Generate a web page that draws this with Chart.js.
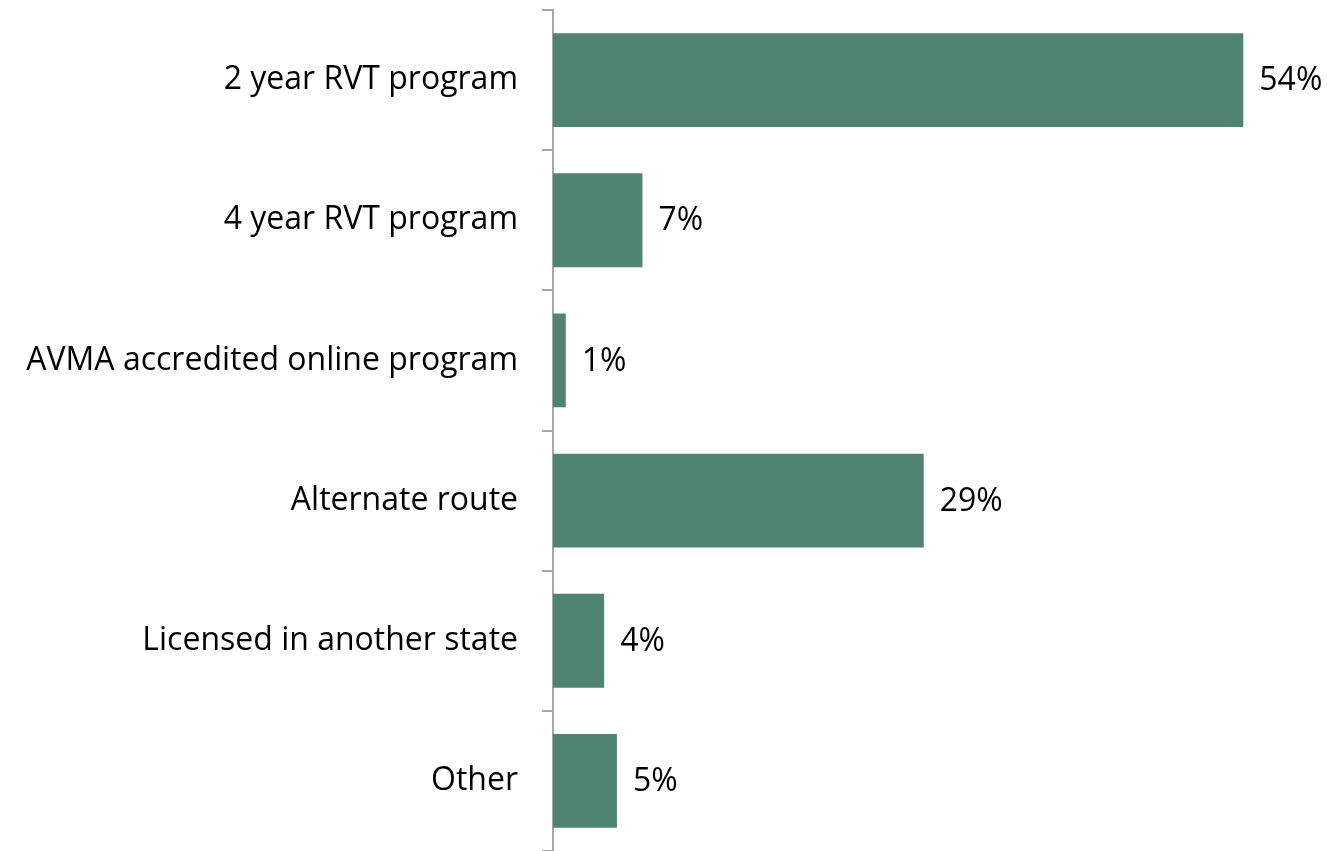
<!DOCTYPE html>
<html>
<head>
<meta charset="utf-8">
<script src="https://cdn.jsdelivr.net/npm/chart.js@4/dist/chart.umd.min.js"></script>
<style>
  html, body { margin: 0; padding: 0; background: #fff; }
  #wrap { width: 1327px; height: 851px; position: relative; }
</style>
</head>
<body>
<div id="wrap"><canvas id="routes"></canvas></div>
<script>
// Kategorien und Werte (Prozent)
var categories = [
  "2 year RVT program",
  "4 year RVT program",
  "AVMA accredited online program",
  "Alternate route",
  "Licensed in another state",
  "Other"
];
var shares = [54, 7, 1, 29, 4, 5];
var axisMax = 60;

var textFont = { family: "Open Sans", size: 32 };

// Werte rechts neben den Balken schreiben
var valueLabels = {
  id: "valueLabels",
  afterDatasetsDraw: function (chart) {
    var ctx = chart.ctx;
    var meta = chart.getDatasetMeta(0);
    ctx.save();
    ctx.font = textFont.size + "px " + textFont.family;
    ctx.fillStyle = "#000";
    ctx.textAlign = "left";
    ctx.textBaseline = "middle";
    meta.data.forEach(function (bar, i) {
      ctx.fillText(shares[i] + "%", bar.x + 16, bar.y + 1);
    });
    ctx.restore();
  }
};

var ctx = document.getElementById("routes");
var chart = new Chart(ctx, {
  type: "bar",
  data: {
    labels: categories,
    datasets: [{
      data: shares,
      backgroundColor: "#4E8470",
      barPercentage: 0.67,
      categoryPercentage: 1
    }]
  },
  options: {
    indexAxis: "y",
    responsive: true,
    maintainAspectRatio: false,
    animation: false,
    layout: { padding: { top: 10, right: 7, bottom: 0, left: 0 } },
    plugins: {
      legend: { display: false },
      tooltip: { enabled: false }
    },
    scales: {
      x: {
        display: false,
        min: 0,
        max: axisMax
      },
      y: {
        // feste Breite für die Beschriftung, kein Zusatzabstand oben/unten
        afterFit: function (scale) {
          scale.width = 553;
          scale.paddingTop = 0;
          scale.paddingBottom = 0;
        },
        border: { color: "#A6A6A6", width: 2 },
        grid: {
          offset: true,
          drawOnChartArea: false,
          drawTicks: true,
          tickLength: 11,
          color: "#A6A6A6",
          lineWidth: 2
        },
        ticks: {
          color: "#000",
          padding: 24,
          font: textFont
        }
      }
    }
  },
  plugins: [valueLabels]
});
</script>
</body>
</html>
